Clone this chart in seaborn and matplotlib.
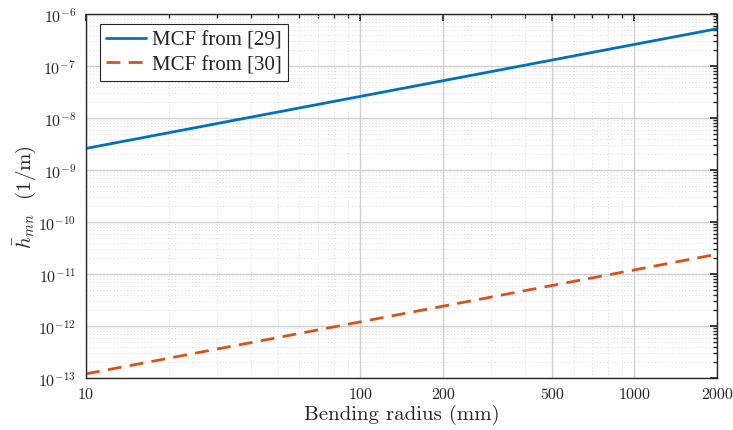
import numpy as np
import pandas as pd
import matplotlib
matplotlib.use("Agg")
import matplotlib.pyplot as plt
import seaborn as sns
from matplotlib.ticker import LogLocator, FixedLocator, FixedFormatter, NullFormatter
from matplotlib.lines import Line2D

# Data
radius_mm = [10, 100, 1000, 2000]
mcf29 = [2.6e-9, 2.6e-8, 2.6e-7, 5.2e-7]
mcf30 = [1.2e-13, 1.2e-12, 1.2e-11, 2.4e-11]
series_names = ["MCF from [29]", "MCF from [30]"]
x_ticks = [10, 100, 200, 500, 1000, 2000]
x_tick_labels = ["10", "100", "200", "500", "1000", "2000"]

df = pd.DataFrame({
    "R": radius_mm * 2,
    "h": mcf29 + mcf30,
    "series": [series_names[0]] * len(radius_mm) + [series_names[1]] * len(radius_mm),
})

sns.set_theme(style="white")
plt.rcParams["mathtext.fontset"] = "cm"
plt.rcParams["font.family"] = ["cmr10", "DejaVu Serif"]
plt.rcParams["axes.formatter.use_mathtext"] = True

fig = plt.figure(figsize=(7.33, 4.31), dpi=100)
ax = fig.add_axes([86 / 733, 1 - 379 / 431, (717 - 86) / 733, (379 - 15) / 431])

palette = {series_names[0]: "#0072BD", series_names[1]: "#D95319"}
sns.lineplot(data=df, x="R", y="h", hue="series", style="series",
             palette=palette, dashes={series_names[0]: "", series_names[1]: (5, 3)},
             linewidth=2, ax=ax, legend=False)

ax.set_xscale("log")
ax.set_yscale("log")
ax.set_xlim(10, 2000)
ax.set_ylim(1e-13, 1e-6)

ax.xaxis.set_major_locator(FixedLocator(x_ticks))
ax.xaxis.set_major_formatter(FixedFormatter(x_tick_labels))
ax.xaxis.set_minor_locator(LogLocator(base=10, subs=np.arange(2, 10), numticks=20))
ax.xaxis.set_minor_formatter(NullFormatter())
ax.yaxis.set_major_locator(LogLocator(base=10, numticks=20))
ax.yaxis.set_minor_locator(LogLocator(base=10, subs=np.arange(2, 10), numticks=20))
ax.yaxis.set_minor_formatter(NullFormatter())

ax.grid(True, which="major", color="#cfcfcf", linewidth=1.0, linestyle="-")
ax.grid(True, which="minor", color="#d8d8d8", linewidth=0.7, linestyle=(0, (1, 2.5)))
ax.set_axisbelow(True)

for s in ax.spines.values():
    s.set_color("#262626")
    s.set_linewidth(1.0)
ax.tick_params(which="both", direction="in", top=True, right=True, color="#262626")
ax.tick_params(which="major", length=5, labelsize=11.5, pad=7)
ax.tick_params(which="minor", length=3)

ax.set_xlabel("Bending radius (mm)", fontsize=15, labelpad=2)
ax.set_ylabel(r"$\bar{h}_{mn}$  (1/m)", fontsize=15, labelpad=0)

handles = [Line2D([], [], color="#0072BD", lw=2),
           Line2D([], [], color="#D95319", lw=2, linestyle=(0, (5, 3)))]
leg = ax.legend(handles, series_names, loc="upper left",
                bbox_to_anchor=((100 - 86) / 631, 1 - (25 - 15) / 364),
                frameon=True, fancybox=False, edgecolor="#262626", framealpha=1,
                prop={"family": "Liberation Serif", "size": 15}, handlelength=1.9,
                borderpad=0.3, labelspacing=0.25, handletextpad=0.3, borderaxespad=0)
leg.get_frame().set_linewidth(0.8)

fig.savefig("out.png", dpi=100)
